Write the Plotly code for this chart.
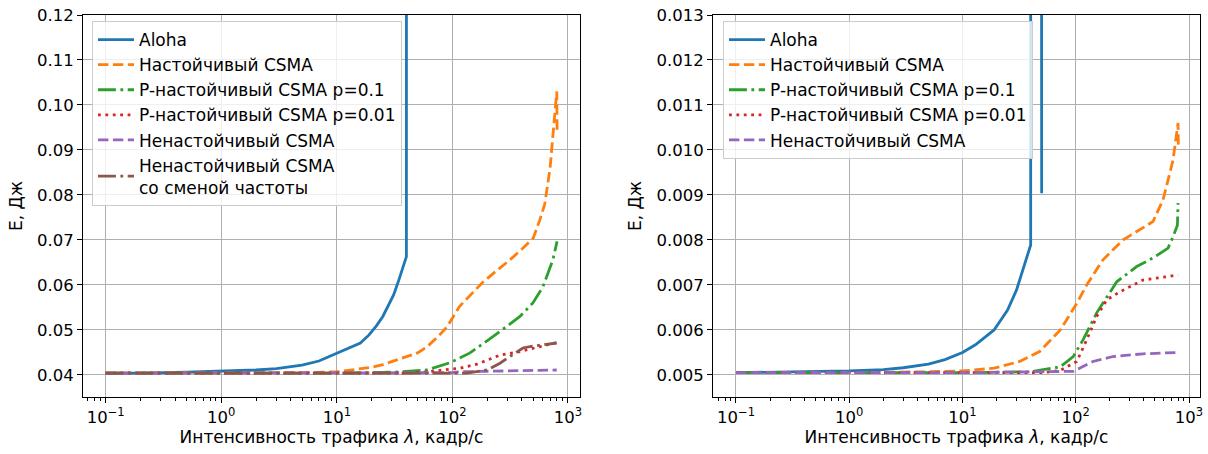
import plotly.graph_objects as go

# ---------------- data (left panel) ----------------
names_left = ["Aloha", "Настойчивый CSMA", "P-настойчивый CSMA p=0.1",
              "P-настойчивый CSMA p=0.01", "Ненастойчивый CSMA",
              "Ненастойчивый CSMA<br>со сменой частоты"]

aloha_x_l = [0.1, 0.2, 0.5, 1, 2, 3, 5, 7, 10, 13, 16, 19, 22, 25, 28, 31, 34, 37, 39, 40, 40.5]
aloha_y_l = [0.0404, 0.0404, 0.0406, 0.0408, 0.0411, 0.0414, 0.0422, 0.0431, 0.0448, 0.0461, 0.0471,
             0.0489, 0.0509, 0.0530, 0.0555, 0.0578, 0.0607, 0.0638, 0.0655, 0.0663, 1.0]

pers_x_l = [0.1, 1, 3, 5, 10, 16, 20, 25, 30, 40, 50, 60, 75, 90, 115, 150, 185, 250, 315, 400,
            500, 570, 630, 700, 770, 800, 805]
pers_y_l = [0.0404, 0.0404, 0.0404, 0.0405, 0.0407, 0.0413, 0.0417, 0.0423, 0.0430, 0.0440, 0.0449,
            0.0462, 0.0485, 0.0507, 0.0552, 0.0583, 0.0607, 0.0635, 0.0656, 0.0680, 0.0704, 0.0744,
            0.0780, 0.0860, 0.0970, 0.1030, 0.0940]

p01_x_l = [0.1, 1, 10, 30, 60, 95, 142, 224, 300, 384, 497, 607, 740, 800, 805]
p01_y_l = [0.0404, 0.0404, 0.0404, 0.0406, 0.0411, 0.0427, 0.0449, 0.0485, 0.0510, 0.0530, 0.0560,
           0.0596, 0.0656, 0.0690, 0.0697]

p001_x_l = [0.1, 1, 10, 40, 60, 116, 163, 258, 384, 571, 800]
p001_y_l = [0.0404, 0.0404, 0.0404, 0.0404, 0.0407, 0.0415, 0.0424, 0.0444, 0.0452, 0.0463, 0.0472]

nonp_x_l = [0.1, 1, 10, 100, 116, 300, 800]
nonp_y_l = [0.0404, 0.0404, 0.0404, 0.0405, 0.0407, 0.0409, 0.0411]

nonpf_x_l = [0.1, 1, 10, 60, 100, 133, 199, 224, 258, 314, 407, 497, 650, 800]
nonpf_y_l = [0.0404, 0.0404, 0.0404, 0.0404, 0.0404, 0.0404, 0.0411, 0.0418, 0.0426, 0.0441, 0.0460,
             0.0464, 0.0468, 0.0471]

# ---------------- data (right panel) ----------------
names_right = names_left[:5]

aloha_x_r = [0.1, 0.2, 0.5, 1, 2, 3, 5, 7, 10, 13, 19, 25, 30, 35, 40, 40.5, 50]
aloha_y_r = [0.00505, 0.00506, 0.00507, 0.00509, 0.00512, 0.00516, 0.00524, 0.00534, 0.00550, 0.00567,
             0.00600, 0.00644, 0.00689, 0.00741, 0.00789, 0.5, 0.00904]

pers_x_r = [0.1, 1, 5, 10, 19, 32, 48, 73, 102, 125, 174, 261, 481, 589, 653, 723, 800, 805]
pers_y_r = [0.00505, 0.00505, 0.00507, 0.00509, 0.00515, 0.00530, 0.00552, 0.00600, 0.00659, 0.00700,
            0.00756, 0.00800, 0.00841, 0.00889, 0.00933, 0.00978, 0.01060, 0.01010]

p01_x_r = [0.1, 1, 10, 40, 73, 95, 116, 153, 188, 230, 345, 481, 653, 723, 790, 800]
p01_y_r = [0.00505, 0.00505, 0.00505, 0.00507, 0.00518, 0.00541, 0.00578, 0.00638, 0.00674, 0.00707,
           0.00741, 0.00760, 0.00782, 0.00807, 0.00833, 0.00882]

p001_x_r = [0.1, 1, 10, 50, 73, 102, 125, 153, 188, 246, 393, 635, 800]
p001_y_r = [0.00505, 0.00505, 0.00505, 0.00505, 0.00510, 0.00530, 0.00578, 0.00630, 0.00667, 0.00685,
            0.00711, 0.00718, 0.00722]

nonp_x_r = [0.1, 1, 10, 95, 142, 213, 393, 800]
nonp_y_r = [0.00505, 0.00505, 0.00505, 0.00508, 0.00530, 0.00541, 0.00547, 0.00550]

x_tickvals = [0.1, 1, 10, 100, 1000]
x_ticktext = ["10<sup>−1</sup>", "10<sup>0</sup>", "10<sup>1</sup>", "10<sup>2</sup>", "10<sup>3</sup>"]
y_tickvals_l = [0.04, 0.05, 0.06, 0.07, 0.08, 0.09, 0.10, 0.11, 0.12]
y_tickvals_r = [0.005, 0.006, 0.007, 0.008, 0.009, 0.010, 0.011, 0.012, 0.013]

x_title = "Интенсивность трафика <i>λ</i>, кадр/с"
y_title = "E, Дж"

# ---------------- styling ----------------
W, H = 1208, 454
FS = 16.5
LFS = 17
colors = ["#1f77b4", "#ff7f0e", "#2ca02c", "#d62728", "#9467bd", "#8c564b"]
LW = 2.8
dashes = ["solid", "10.4px,4.5px", "17.9px,4.5px,2.8px,4.5px", "2.8px,4.6px",
          "10.4px,4.5px", "17.9px,4.5px,2.8px,4.5px"]

minor_vals = [m * 10 ** k for k in range(-2, 4) for m in range(2, 10)]

fig = go.Figure()

left_series = [(aloha_x_l, aloha_y_l), (pers_x_l, pers_y_l), (p01_x_l, p01_y_l),
               (p001_x_l, p001_y_l), (nonp_x_l, nonp_y_l), (nonpf_x_l, nonpf_y_l)]
right_series = [(aloha_x_r, aloha_y_r), (pers_x_r, pers_y_r), (p01_x_r, p01_y_r),
                (p001_x_r, p001_y_r), (nonp_x_r, nonp_y_r)]

for i, ((xs, ys), nm) in enumerate(zip(left_series, names_left)):
    fig.add_trace(go.Scatter(x=xs, y=ys, name=nm, mode="lines",
                             line=dict(color=colors[i], width=LW, dash=dashes[i]),
                             xaxis="x", yaxis="y", legend="legend",
                             legendgroup="L%d" % i))

for i, ((xs, ys), nm) in enumerate(zip(right_series, names_right)):
    fig.add_trace(go.Scatter(x=xs, y=ys, name=nm, mode="lines",
                             line=dict(color=colors[i], width=LW, dash=dashes[i]),
                             xaxis="x2", yaxis="y2", legend="legend2",
                             legendgroup="R%d" % i))

ydom = [1 - 397 / H, 1 - 15 / H]

def xaxis_style(dom, rng, anchor):
    return dict(type="log", domain=dom, range=rng, tickmode="array", anchor=anchor,
                tickvals=x_tickvals, ticktext=x_ticktext, ticks="outside", ticklen=5,
                tickwidth=1, tickcolor="black", showline=True, linecolor="black",
                linewidth=1, mirror=True, showgrid=True, gridcolor="#b0b0b0",
                gridwidth=1, zeroline=False, automargin=False,
                minor=dict(tickmode="array", tickvals=minor_vals, ticks="outside",
                           ticklen=3, tickwidth=1, tickcolor="black", showgrid=False),
                title=dict(text=x_title, standoff=5, font=dict(size=LFS)))

def yaxis_style(rng, vals, fmt, anchor):
    return dict(domain=ydom, range=rng, tickmode="array", tickvals=vals,
                tickformat=fmt, ticks="outside", ticklen=5, tickwidth=1,
                tickcolor="black", showline=True, linecolor="black", linewidth=1,
                mirror=True, showgrid=True, gridcolor="#b0b0b0", gridwidth=1,
                zeroline=False, anchor=anchor, automargin=False,
                title=dict(text=y_title, standoff=10, font=dict(size=LFS)))

legend_common = dict(xanchor="left", yanchor="top", bgcolor="rgba(255,255,255,0.8)",
                     bordercolor="#cccccc", borderwidth=1, font=dict(size=LFS),
                     traceorder="grouped", tracegroupgap=0, itemwidth=36)

fig.update_layout(
    width=W, height=H, margin=dict(l=0, r=0, t=0, b=0, autoexpand=False),
    paper_bgcolor="white", plot_bgcolor="white",
    font=dict(family="DejaVu Sans", size=FS, color="black"),
    xaxis=xaxis_style([83 / W, 580 / W], [-1.196, 3.104], "y"),
    yaxis=yaxis_style([0.0351, 0.12], y_tickvals_l, ".2f", "x"),
    xaxis2=xaxis_style([713 / W, 1200 / W], [-1.203, 3.097], "y2"),
    yaxis2=yaxis_style([0.00451, 0.013], y_tickvals_r, ".3f", "x2"),
    legend=dict(legend_common, x=92 / W, y=1 - 21 / H),
    legend2=dict(legend_common, x=723 / W, y=1 - 21 / H),
    showlegend=True,
)

fig.write_html("out.html", config={"displayModeBar": False},
               post_script="document.body.style.margin='0px';")
